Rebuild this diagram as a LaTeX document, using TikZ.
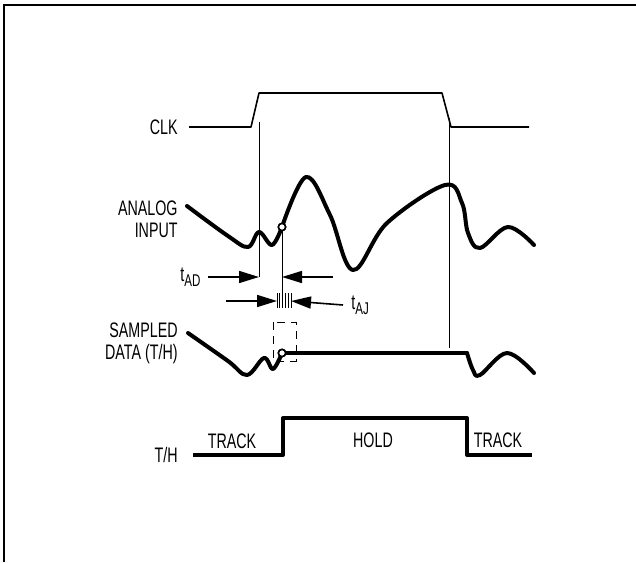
\documentclass[tikz,border=0pt]{standalone}
\usepackage{fontspec}
\setmainfont[FakeStretch=0.68]{Liberation Sans}
\usetikzlibrary{arrows.meta,positioning}
\newcommand{\tsub}[1]{t\raisebox{-0.45ex}{\fontsize{8.5}{9}\selectfont #1}}
\tikzset{
  lbl/.style={font=\fontsize{10.5}{11}\selectfont,inner sep=0pt},
  lname/.style={lbl,anchor=east,align=right},
  wave/.style={line width=2pt,line join=round,line cap=round},
  clkline/.style={line width=0.8pt,line join=round},
  tline/.style={line width=0.5pt},
  tarr/.style={-{Triangle[length=10pt,width=6pt]},line width=0.8pt},
  sdot/.style={circle,draw,fill=white,line width=0.8pt,inner sep=0pt,minimum size=3.6pt}
}
\begin{document}
\begin{tikzpicture}[x=0.5pt,y=-0.5pt]
  \useasboundingbox (0,0) rectangle (636,562);
  \draw[line width=1pt] (4,562) -- (4,5) -- (636,5);
  % signal names
  \node[lname] (clk) at (178,127) {CLK};
  \node[lname] (ain) at (178,219) {ANALOG\\INPUT};
  \node[lname] (sdata) at (178,343) {SAMPLED\\DATA (T/H)};
  \node[lname] (th) at (178,455) {T/H};
  \node[lbl] (trk1) at (232,441) {TRACK};
  \node[lbl] (hold) at (373,440) {HOLD};
  \node[lbl] (trk2) at (498,440) {TRACK};
  \node[lbl,anchor=west] (tad) at (180,277) {\tsub{AD}};
  \node[lbl,anchor=west] (taj) at (351,305) {\tsub{AJ}};
  % timing marks
  \coordinate (ta) at (259,277);
  \coordinate (tb) at (282,277);
  \coordinate (ja) at (277,301);
  \coordinate (jb) at (291,301);
  \node[sdot] (samp) at (282,227) {};
  \node[sdot] (held) at (282,353) {};
  % clock
  \draw[clkline] (189,127) -- (251,127) -- (259,93) -- (442,93) -- (451,127) -- (529,127);
  \draw[tline] (259,122) -- (ta);
  \draw[tline] (samp) -- (282,293);
  \draw[tline] (449,118) -- (449,348);
  \draw[tarr] (tad.east) ++(7,0) -- (ta);
  \draw[tarr] (333,277) -- (tb);
  \draw[tarr] (226,301) -- (ja);
  \draw[tarr] (taj.west) ++(-8,0) -- (jb);
  \foreach \x in {277,279.8,...,291.5}
    \draw[tline] (\x,293) -- (\x,308);
  \draw[tline,dash pattern=on 4pt off 3pt] (273,322) rectangle (296,361);
  % waveforms
  \draw[wave] plot[smooth,tension=0.6] coordinates {(187,206) (228,236) (248,247) (259,232) (272,245) (samp)};
  \draw[wave] plot[smooth,tension=0.6] coordinates {(samp) (306,177) (330,215) (353,270) (387,223) (445,185) (462,203) (468,233) (480,248) (508,227) (534,245)};
  \draw[wave] plot[smooth,tension=0.6] coordinates {(188,333) (228,361) (247,375) (264,358) (273,369) (held)};
  \draw[wave] (held) -- (467,353);
  \draw[wave] plot[smooth,tension=0.6] coordinates {(467,353) (473,370) (480,375) (507,353) (534,373)};
  \draw[wave,line cap=butt] (193,455) -- (283,455) -- (283,418) -- (467,418) -- (467,455) -- (532,455);
  \node[sdot] at (samp) {};
  \node[sdot] at (held) {};
\end{tikzpicture}
\end{document}
